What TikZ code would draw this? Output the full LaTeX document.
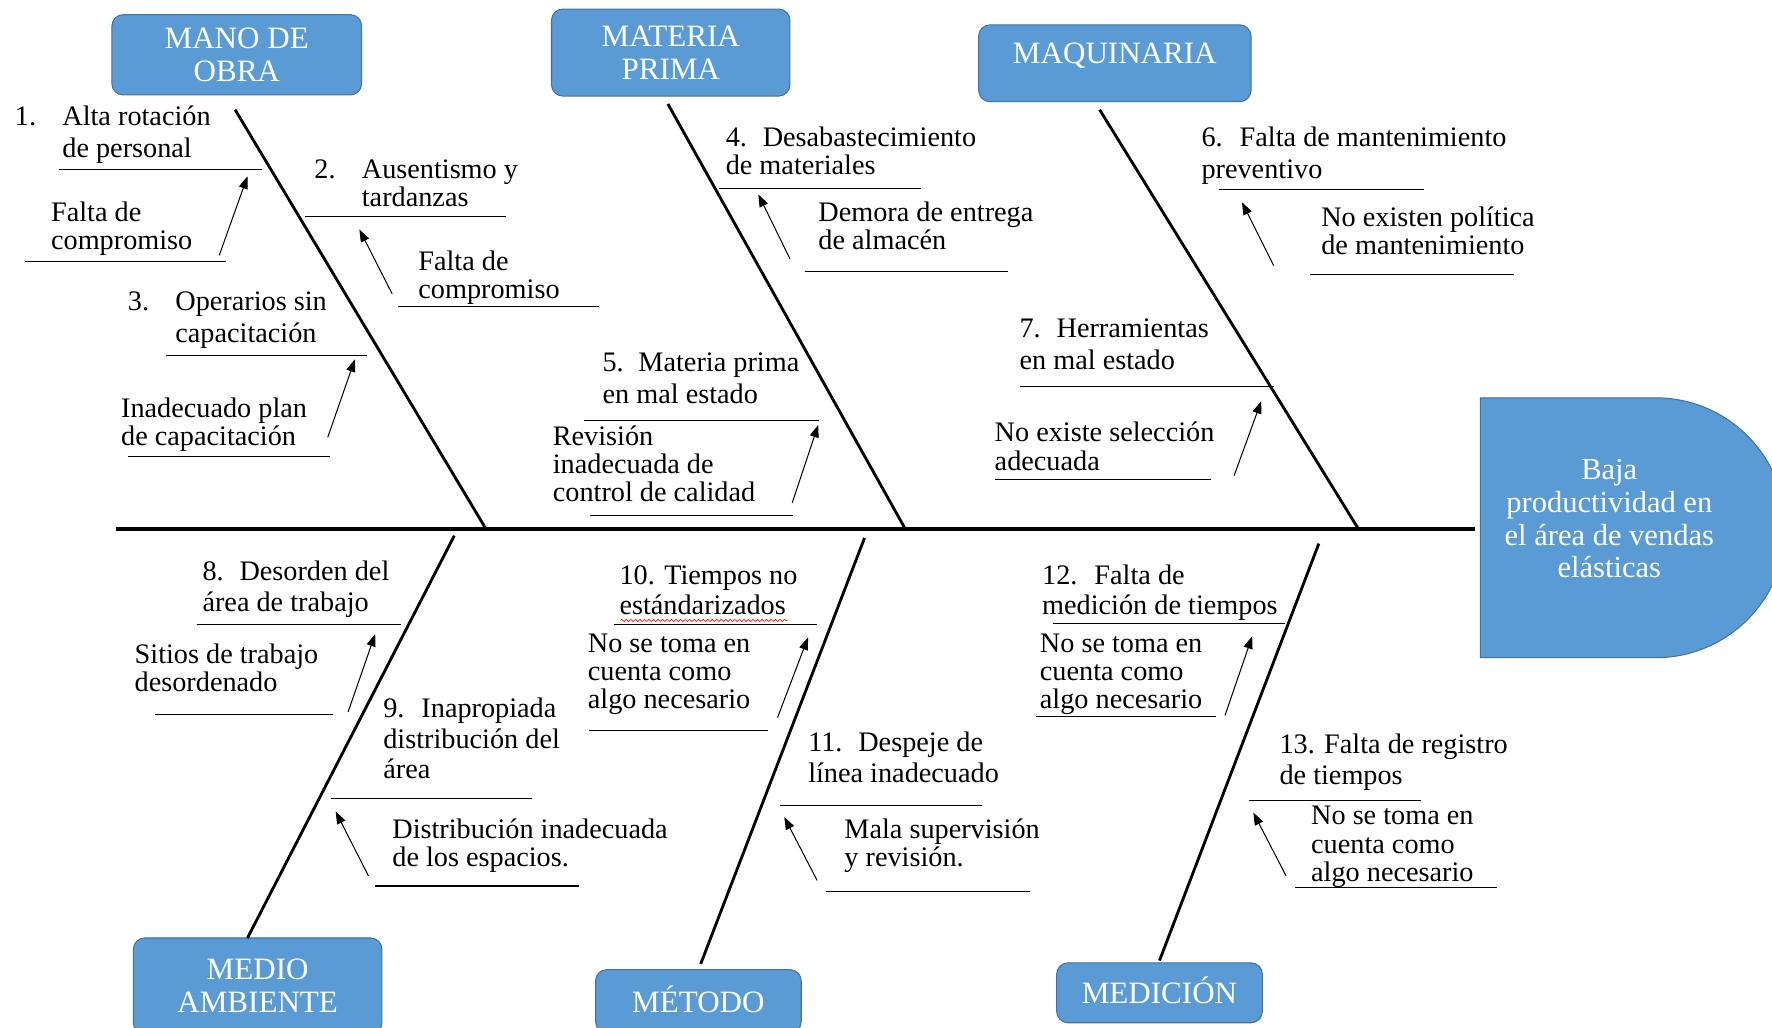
\documentclass[tikz,border=0pt]{standalone}
\usepackage{fontspec}
\setmainfont{Liberation Serif}
\usetikzlibrary{arrows.meta,decorations.pathmorphing}

\definecolor{boxfill}{HTML}{5B9BD5}
\definecolor{boxline}{HTML}{41719C}

% a block of left-aligned lines whose baseline is that of its first line
\newcommand\lines[1]{\begin{tabular}[t]{@{}l@{}}#1\end{tabular}}
\newcommand\bodysize[1]{\fontsize{25}{#1}\selectfont}

\begin{document}
\begin{tikzpicture}[x=1pt,y=-1pt,
  hdr/.style={draw=boxline, fill=boxfill, line width=0.9pt, rounded corners=10pt,
              text=white, align=center, inner sep=0pt, font=\fontsize{27.5}{29}\selectfont},
  spine/.style={line width=3pt},
  bone/.style={line width=2.5pt},
  uline/.style={line width=0.9pt},
  cause/.style={line width=0.9pt, -{Triangle[length=11pt,width=8pt]}},
  lbl/.style={anchor=base west, inner sep=0pt, font=\bodysize{#1}},
  lbl/.default=25,
  spell/.style={red, line width=0.6pt, decorate,
                decoration={snake, amplitude=0.9pt, segment length=4pt}},
]
\useasboundingbox (0,0) rectangle (1568,909);
\clip (0,0) rectangle (1568,909);

% ---------- category boxes ----------
\node[hdr, minimum width=221pt, minimum height=71pt] (mano) at (209.5,48.5) {MANO DE\\OBRA};
\node[hdr, minimum width=211pt, minimum height=77pt] (materia) at (593.5,46.5) {MATERIA\\PRIMA};
\node[hdr, minimum width=241pt, minimum height=68pt] (maquina) at (986.5,56) {MAQUINARIA\\[-12pt]\mbox{}};
\node[hdr, minimum width=220pt, minimum height=85pt] (medio) at (228,872.5) {MEDIO\\AMBIENTE};
\node[hdr, minimum width=182pt, minimum height=56pt] (metodo) at (618,886) {\raisebox{4pt}{MÉTODO}};
\node[hdr, minimum width=182pt, minimum height=53pt] (medicion) at (1026,878.5) {\raisebox{4pt}{MEDICIÓN}};

% ---------- effect (head of the fish) ----------
\path[draw=boxline, fill=boxfill, line width=0.9pt]
  (1310,352) -- (1465,352) .. controls (1528.5,352) and (1580,403.5) .. (1580,467)
  .. controls (1580,530.5) and (1528.5,582) .. (1465,582) -- (1310,582) -- cycle;
\node[text=white, align=center, inner sep=0pt, font=\fontsize{27}{29}\selectfont]
  (efecto) at (1424,459) {Baja\\productividad en\\el área de vendas\\elásticas};

% ---------- spine and main bones ----------
\coordinate (tail) at (103,468);
\coordinate (head) at (1305,468);
\draw[spine] (tail) -- (head);

\coordinate (b1) at (208,97);   \coordinate (j1) at (430,468);
\coordinate (b2) at (591,92);   \coordinate (j2) at (801,468);
\coordinate (b3) at (973,97);   \coordinate (j3) at (1202,468);
\coordinate (b4) at (219,830);  \coordinate (j4) at (402,474);
\coordinate (b5) at (620,853);  \coordinate (j5) at (765,476);
\coordinate (b6) at (1026,850); \coordinate (j6) at (1167,481);
\foreach \k in {1,...,6} \draw[bone] (b\k) -- (j\k);

% ---------- MANO DE OBRA ----------
\node[lbl] (n1) at (13,111) {1.};
\node[lbl=28] (t1) at (55,111) {\lines{Alta rotación\\de personal}};
\draw[uline] (52,150) -- (232,150);
\node[lbl] (c1) at (45,196) {\lines{Falta de\\compromiso}};
\draw[uline] (22,231) -- (200,231);
\coordinate (a1s) at (194,226); \coordinate (a1e) at (219,156);
\draw[cause] (a1s) -- (a1e);

\node[lbl] (n2) at (278,158) {2.};
\node[lbl=24] (t2) at (320,158) {\lines{Ausentismo y\\tardanzas}};
\draw[uline] (270,192) -- (448,192);
\node[lbl] (c2) at (370,239) {\lines{Falta de\\compromiso}};
\draw[uline] (352,271) -- (530,271);
\coordinate (a2s) at (347,260); \coordinate (a2e) at (318,203);
\draw[cause] (a2s) -- (a2e);

\node[lbl] (n3) at (113,275) {3.};
\node[lbl=28] (t3) at (155,275) {\lines{Operarios sin\\capacitación}};
\draw[uline] (147,315) -- (325,315);
\node[lbl] (c3) at (107,369) {\lines{Inadecuado plan\\de capacitación}};
\draw[uline] (113,404) -- (292,404);
\coordinate (a3s) at (290,387); \coordinate (a3e) at (314,318);
\draw[cause] (a3s) -- (a3e);

% ---------- MATERIA PRIMA ----------
\node[lbl=24] (t4) at (642,130) {\lines{4.\hspace{14pt}Desabastecimiento\\de materiales}};
\draw[uline] (636,167) -- (815,167);
\node[lbl] (c4) at (724,196) {\lines{Demora de entrega\\de almacén}};
\draw[uline] (712,240) -- (892,240);
\coordinate (a4s) at (699,229); \coordinate (a4e) at (671,172);
\draw[cause] (a4s) -- (a4e);

\node[lbl=28] (t5) at (533,329) {\lines{5.\hspace{13pt}Materia prima\\en mal estado}};
\draw[uline] (517,372) -- (725,372);
\node[lbl] (c5) at (489,394) {\lines{Revisión\\inadecuada de\\control de calidad}};
\draw[uline] (522,456) -- (702,456);
\coordinate (a5s) at (701,445); \coordinate (a5e) at (724,376);
\draw[cause] (a5s) -- (a5e);

% ---------- MAQUINARIA ----------
\node[lbl=28] (t6) at (1063,130) {\lines{6.\hspace{15pt}Falta de mantenimiento\\preventivo}};
\draw[uline] (1079,168) -- (1260,168);
\node[lbl] (c6) at (1169,200) {\lines{No existen política\\de mantenimiento}};
\draw[uline] (1159,243) -- (1340,243);
\coordinate (a6s) at (1127,235); \coordinate (a6e) at (1099,179);
\draw[cause] (a6s) -- (a6e);

\node[lbl=28] (t7) at (902,299) {\lines{7.\hspace{14pt}Herramientas\\en mal estado}};
\draw[uline] (903,342) -- (1127,342);
\node[lbl] (c7) at (880,391) {\lines{No existe selección\\adecuada}};
\draw[uline] (880,424) -- (1072,424);
\coordinate (a7s) at (1092,421); \coordinate (a7e) at (1116,355);
\draw[cause] (a7s) -- (a7e);

% ---------- MEDIO AMBIENTE ----------
\node[lbl=27] (t8) at (179,514) {\lines{8.\hspace{14pt}Desorden del\\área de trabajo}};
\draw[uline] (174,553) -- (355,553);
\node[lbl] (c8) at (119,587) {\lines{Sitios de trabajo\\desordenado}};
\draw[uline] (137,632) -- (295,632);
\coordinate (a8s) at (308,630); \coordinate (a8e) at (332,561);
\draw[cause] (a8s) -- (a8e);

\node[lbl=27] (t9) at (339,635) {\lines{9.\hspace{15pt}Inapropiada\\distribución del\\área}};
\draw[uline] (293,707) -- (471,707);
\node[lbl] (c9) at (347,742) {\lines{Distribución inadecuada\\de los espacios.}};
\draw[uline] (332,784) -- (512,784);
\coordinate (a9s) at (326,775); \coordinate (a9e) at (297,718);
\draw[cause] (a9s) -- (a9e);

% ---------- MÉTODO ----------
\node[lbl=27] (t10) at (548,517) {\lines{10. Tiempos no\\estándarizados}};
\draw[spell] (549,549) -- (697,549);
\draw[uline] (543,553) -- (723,553);
\node[lbl] (c10) at (520,577) {\lines{No se toma en\\cuenta como\\algo necesario}};
\draw[uline] (521,646) -- (680,646);
\coordinate (a10s) at (688,635); \coordinate (a10e) at (715,564);
\draw[cause] (a10s) -- (a10e);

\node[lbl=27] (t11) at (715,665) {\lines{11.\hspace{14pt}Despeje de\\línea inadecuado}};
\draw[uline] (690,713) -- (869,713);
\node[lbl] (c11) at (747,742) {\lines{Mala supervisión\\y revisión.}};
\draw[uline] (731,789) -- (911,789);
\coordinate (a11s) at (723,779); \coordinate (a11e) at (694,723);
\draw[cause] (a11s) -- (a11e);

% ---------- MEDICIÓN ----------
\node[lbl=27] (t12) at (922,517) {\lines{12.\hspace{15pt}Falta de\\medición de tiempos}};
\draw[uline] (932,552) -- (1137,552);
\node[lbl] (c12) at (920,577) {\lines{No se toma en\\cuenta como\\algo necesario}};
\draw[uline] (917,634) -- (1076,634);
\coordinate (a12s) at (1084,633); \coordinate (a12e) at (1108,563);
\draw[cause] (a12s) -- (a12e);

\node[lbl=27] (t13) at (1132,667) {\lines{13. Falta de registro\\de tiempos}};
\draw[uline] (1105,708) -- (1257,708);
\node[lbl] (c13) at (1160,730) {\lines{No se toma en\\cuenta como\\algo necesario}};
\draw[uline] (1146,785) -- (1325,785);
\coordinate (a13s) at (1138,775); \coordinate (a13e) at (1109,719);
\draw[cause] (a13s) -- (a13e);
\end{tikzpicture}
\end{document}
